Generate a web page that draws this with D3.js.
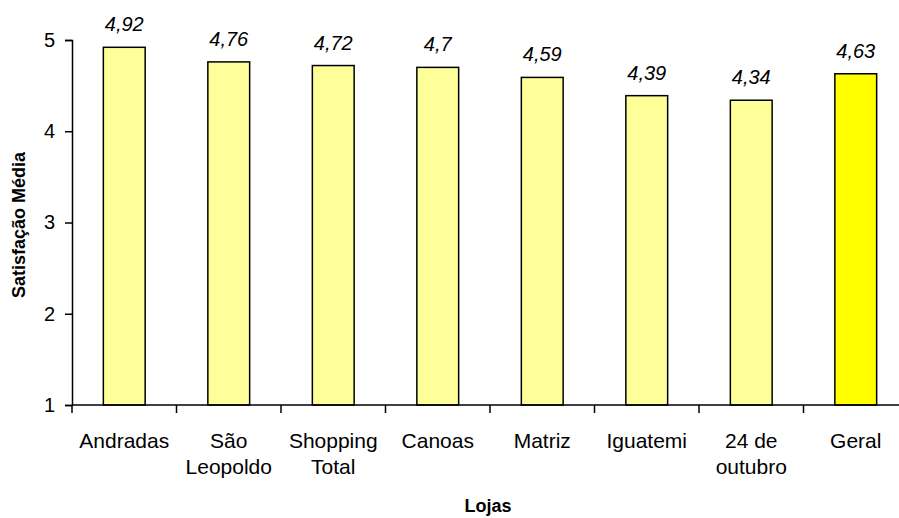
<!DOCTYPE html>
<html>
<head>
<meta charset="utf-8">
<script src="https://cdn.jsdelivr.net/npm/d3@7"></script>
<style>
  body { margin: 0; background: #fff; }
  svg { display: block; font-family: Arial, "Liberation Sans", sans-serif; }
</style>
</head>
<body>
<div id="chart"></div>
<script>
// data
const lojas = [["Andradas"], ["São", "Leopoldo"], ["Shopping", "Total"], ["Canoas"], ["Matriz"], ["Iguatemi"], ["24 de", "outubro"], ["Geral"]];
const satisfacao = [4.92, 4.76, 4.72, 4.7, 4.59, 4.39, 4.34, 4.63];
const rotulos = ["4,92", "4,76", "4,72", "4,7", "4,59", "4,39", "4,34", "4,63"];
const yTicks = [1, 2, 3, 4, 5];

const width = 899;
const height = 518;
const plotLeft = 72, plotTop = 40, plotBottom = 405, plotRight = 908;

const svg = d3.select('#chart')
  .append('svg')
  .attr('width', width)
  .attr('height', height);

const x = d3.scaleBand()
  .domain(d3.range(lojas.length))
  .range([plotLeft, plotRight])
  .paddingInner(0.6)
  .paddingOuter(0.3);

const y = d3.scaleLinear()
  .domain([1, 5])
  .range([plotBottom, plotTop]);

// bars
svg.selectAll('.bar')
  .data(satisfacao)
  .enter()
  .append('rect')
  .attr('class', 'bar')
  .attr('x', (d, i) => x(i))
  .attr('y', d => y(d))
  .attr('width', x.bandwidth())
  .attr('height', d => y(1) - y(d))
  .attr('fill', (d, i) => i === lojas.length - 1 ? '#ffff00' : '#ffff99')
  .attr('stroke', '#000')
  .attr('stroke-width', 1.5);

// value labels
svg.selectAll('.val')
  .data(satisfacao)
  .enter()
  .append('text')
  .attr('x', (d, i) => x(i) + x.bandwidth() / 2)
  .attr('y', d => y(d) - 16)
  .attr('text-anchor', 'middle')
  .attr('font-size', 20)
  .attr('font-style', 'italic')
  .text((d, i) => rotulos[i]);

// y axis
const yAxis = svg.append('g')
  .attr('transform', `translate(${plotLeft},0)`)
  .call(d3.axisLeft(y).tickValues(yTicks).tickSize(7).tickPadding(10).tickFormat(d3.format('d')));
yAxis.select('.domain').attr('stroke-width', 1.5);
yAxis.selectAll('.tick line').attr('stroke-width', 1.5);
yAxis.selectAll('text').attr('font-size', 20).attr('fill', '#000').attr('font-family', 'Arial, "Liberation Sans", sans-serif');

// x axis: ticks on category boundaries
const step = x.step();
const boundaries = d3.range(lojas.length + 1).map(i => plotLeft + i * step);
svg.append('line')
  .attr('x1', plotLeft).attr('x2', plotRight)
  .attr('y1', plotBottom).attr('y2', plotBottom)
  .attr('stroke', '#000').attr('stroke-width', 1.5);
svg.selectAll('.xtick')
  .data(boundaries)
  .enter()
  .append('line')
  .attr('x1', d => d).attr('x2', d => d)
  .attr('y1', plotBottom).attr('y2', plotBottom + 8)
  .attr('stroke', '#000').attr('stroke-width', 1.5);

// category labels, one tspan per line
lojas.forEach((linhas, i) => {
  const t = svg.append('text')
    .attr('text-anchor', 'middle')
    .attr('font-size', 21)
    .attr('y', 448);
  linhas.forEach((s, j) => {
    t.append('tspan')
      .attr('x', x(i) + x.bandwidth() / 2)
      .attr('dy', j === 0 ? 0 : 26)
      .text(s);
  });
});

// axis titles
svg.append('text')
  .attr('x', 488).attr('y', 512)
  .attr('text-anchor', 'middle')
  .attr('font-size', 18)
  .attr('font-weight', 'bold')
  .text('Lojas');

svg.append('text')
  .attr('transform', 'translate(25,225) rotate(-90)')
  .attr('text-anchor', 'middle')
  .attr('font-size', 18)
  .attr('font-weight', 'bold')
  .text('Satisfação Média');
</script>
</body>
</html>
